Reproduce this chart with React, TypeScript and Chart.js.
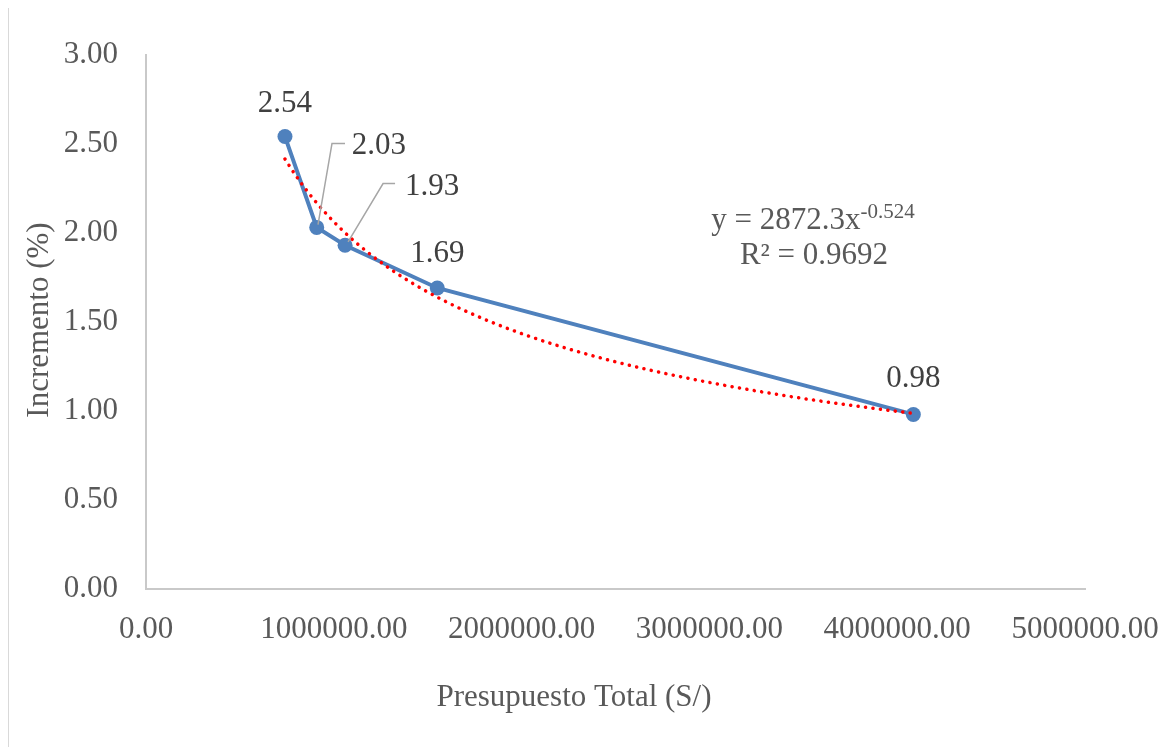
import React, { useEffect, useRef } from "react";
import { Chart, registerables } from "chart.js";

Chart.register(...registerables);

// ---- Data ----
const budgets = [740000, 909000, 1060000, 1551000, 4086000];
const increments = [2.54, 2.03, 1.93, 1.69, 0.98];
const pointLabels = ["2.54", "2.03", "1.93", "1.69", "0.98"];
const xTickValues = [0, 1000000, 2000000, 3000000, 4000000, 5000000];
const yTickValues = [0, 0.5, 1, 1.5, 2, 2.5, 3];
// Power trendline shown on the chart: y = 2872.3 x^-0.524
const trendCoefA = 2872.3;
const trendExpB = -0.524;
const trendEquationMain = "y = 2872.3x";
const trendEquationExp = "-0.524";
const trendR2Text = "R² = 0.9692";
const xTitle = "Presupuesto Total (S/)";
const yTitle = "Incremento (%)";

const FONT = "'Liberation Serif', 'Times New Roman', serif";
const TREND_SAMPLES = 160;

function buildTrend() {
  const lo = Math.min(...budgets);
  const hi = Math.max(...budgets);
  const pts: { x: number; y: number }[] = [];
  for (let i = 0; i <= TREND_SAMPLES; i++) {
    const x = lo + ((hi - lo) * i) / TREND_SAMPLES;
    pts.push({ x, y: trendCoefA * Math.pow(x, trendExpB) });
  }
  return pts;
}

// label placement (pixel offsets from each point)
const labelStyle: any[] = [
  { dx: 0, dy: -25, align: "center" },
  { dx: 35, dy: -73, align: "left", leader: [[1.3, -2.7], [15.3, -84], [28.3, -84]] },
  { dx: 60, dy: -50, align: "left", leader: [[3, -3.3], [38, -61.6], [50, -61.6]] },
  { dx: 0, dy: -26, align: "center" },
  { dx: 0, dy: -27, align: "center" },
];

const annotPlugin = {
  id: "annot",
  afterDatasetsDraw(chart: any) {
    const ctx = chart.ctx;
    const meta = chart.getDatasetMeta(1);
    ctx.save();
    meta.data.forEach((pt: any, i: number) => {
      const st = labelStyle[i];
      if (st.leader) {
        ctx.beginPath();
        ctx.strokeStyle = "#a6a6a6";
        ctx.lineWidth = 1.5;
        st.leader.forEach((p: number[], k: number) => {
          if (k === 0) ctx.moveTo(pt.x + p[0], pt.y + p[1]);
          else ctx.lineTo(pt.x + p[0], pt.y + p[1]);
        });
        ctx.stroke();
      }
      ctx.font = `31px ${FONT}`;
      ctx.fillStyle = "#404040";
      ctx.textAlign = st.align;
      ctx.textBaseline = "alphabetic";
      ctx.fillText(pointLabels[i], pt.x + st.dx, pt.y + st.dy);
    });
    ctx.restore();
  },
  afterDraw(chart: any) {
    const ctx = chart.ctx;
    const area = chart.chartArea;
    ctx.save();
    // trendline equation
    const cx = area.left + 667;
    ctx.fillStyle = "#595959";
    ctx.textBaseline = "alphabetic";
    ctx.font = `31px ${FONT}`;
    const wMain = ctx.measureText(trendEquationMain).width;
    ctx.font = `21px ${FONT}`;
    const wExp = ctx.measureText(trendEquationExp).width;
    const startX = cx - (wMain + wExp) / 2;
    ctx.textAlign = "left";
    ctx.font = `31px ${FONT}`;
    ctx.fillText(trendEquationMain, startX, area.top + 174.7);
    ctx.font = `21px ${FONT}`;
    ctx.fillText(trendEquationExp, startX + wMain, area.top + 163);
    ctx.font = `31px ${FONT}`;
    ctx.textAlign = "center";
    ctx.fillText(trendR2Text, cx + 1, area.top + 209.7);

    // axis titles
    ctx.fillStyle = "#595959";
    ctx.font = `31px ${FONT}`;
    ctx.textAlign = "center";
    ctx.fillText(xTitle, 565, 697.5);
    ctx.translate(38.5, 312);
    ctx.rotate(-Math.PI / 2);
    ctx.fillText(yTitle, 0, 0);
    ctx.restore();
  },
};

export default function App() {
  const ref = useRef<HTMLCanvasElement | null>(null);
  useEffect(() => {
    document.documentElement.style.overflow = "hidden";
    document.body.style.overflow = "hidden";
    const canvas = ref.current!;
    const tickFont = { family: FONT, size: 31 };
    const chart = new Chart(canvas, {
      type: "scatter",
      data: {
        datasets: [
          {
            label: "Tendencia",
            data: buildTrend(),
            showLine: true,
            borderColor: "#ff0000",
            borderWidth: 3.5,
            borderDash: [0.1, 7.4],
            borderCapStyle: "round",
            pointRadius: 0,
            pointHoverRadius: 0,
            fill: false,
            order: 0,
          } as any,
          {
            label: "Incremento",
            data: budgets.map((b, i) => ({ x: b, y: increments[i] })),
            showLine: true,
            borderColor: "#4f81bd",
            backgroundColor: "#4f81bd",
            borderWidth: 4,
            pointRadius: 7.5,
            pointBorderWidth: 0,
            pointBackgroundColor: "#4f81bd",
            order: 1,
          } as any,
        ],
      },
      options: {
        responsive: false,
        animation: false,
        layout: { padding: { top: 44, right: 89, left: 0, bottom: 0 } },
        plugins: { legend: { display: false }, tooltip: { enabled: false } },
        scales: {
          x: {
            type: "linear",
            position: "bottom",
            min: 0,
            max: 5000000,
            afterBuildTicks: (s: any) => {
              s.ticks = xTickValues.map((v) => ({ value: v }));
            },
            afterFit: (s: any) => {
              s.height = 158;
              s.paddingLeft = 0;
              s.paddingRight = 0;
            },
            grid: { display: false, drawTicks: false },
            border: { display: true, color: "#c9c9c9", width: 2 },
            ticks: {
              font: tickFont,
              color: "#595959",
              padding: 22,
              maxRotation: 0,
              autoSkip: false,
              callback: (v: any) => Number(v).toFixed(2),
            },
          },
          y: {
            type: "linear",
            min: 0,
            max: 3,
            afterBuildTicks: (s: any) => {
              s.ticks = yTickValues.map((v) => ({ value: v }));
            },
            afterFit: (s: any) => {
              s.width = 137;
            },
            grid: { display: false, drawTicks: false },
            border: { display: true, color: "#c9c9c9", width: 2 },
            ticks: {
              font: tickFont,
              color: "#595959",
              padding: 28,
              autoSkip: false,
              callback: (v: any) => Number(v).toFixed(2),
            },
          },
        },
      } as any,
      plugins: [annotPlugin],
    });
    return () => chart.destroy();
  }, []);

  return (
    <div
      style={{
        marginLeft: -1,
        marginTop: -2,
        width: 1200,
        height: 760,
        boxSizing: "border-box",
        borderTop: "2px solid #d9d9d9",
        borderLeft: "2px solid #d9d9d9",
        background: "#ffffff",
      }}
    >
      <canvas ref={ref} width={1165} height={739} style={{ display: "block" }} />
    </div>
  );
}
